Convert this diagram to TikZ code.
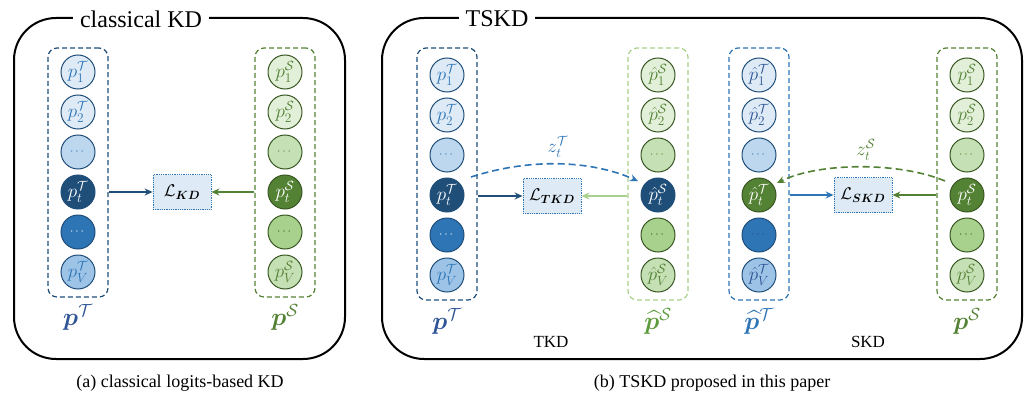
\RequirePackage{fix-cm}
\documentclass[tikz,border=0pt]{standalone}
\usepackage{fontspec}
\setmainfont{Liberation Serif}
\usepackage{amsmath,bm}
\usetikzlibrary{arrows.meta}
\definecolor{tdark}{HTML}{1F4E79}
\definecolor{tmid}{HTML}{2E75B6}
\definecolor{tlight}{HTML}{DEEBF7}
\definecolor{tlight2}{HTML}{BDD7EE}
\definecolor{tlight3}{HTML}{9DC3E6}
\definecolor{tlab}{HTML}{2F5597}
\definecolor{sdark}{HTML}{385723}
\definecolor{smid}{HTML}{548235}
\definecolor{slight}{HTML}{E2F0D9}
\definecolor{slight2}{HTML}{C5E0B4}
\definecolor{slight3}{HTML}{A9D18E}
\definecolor{slab}{HTML}{5E9B3C}
\tikzset{
  cir/.style={circle, minimum size=34pt, inner sep=0pt, line width=1pt, font=\fontsize{19}{22}\selectfont},
  tA/.style={cir, draw=tdark, fill=tlight, text=tmid},
  tB/.style={cir, draw=tdark, fill=tlight2, text=tmid},
  tC/.style={cir, draw=tdark, fill=tdark, text=white},
  tD/.style={cir, draw=tdark, fill=tmid, text=white},
  tE/.style={cir, draw=tdark, fill=tlight3, text=tmid},
  sA/.style={cir, draw=sdark, fill=slight, text=smid},
  sB/.style={cir, draw=sdark, fill=slight2, text=smid},
  sC/.style={cir, draw=sdark, fill=smid, text=white},
  sD/.style={cir, draw=sdark, fill=slight3, text=sdark},
  dots/.style={font=\fontsize{12}{14}\selectfont},
  colbox/.style={rounded corners=9pt, dash pattern=on 5pt off 3pt, line width=1.2pt, minimum width=60pt, inner sep=0pt},
  lbox/.style={draw=tmid, densely dotted, fill=tlight, minimum width=58pt, minimum height=35pt, line width=0.8pt, font=\fontsize{17}{20}\selectfont},
  arr/.style={line width=1.6pt, -{Stealth[length=8pt,width=7pt]}},
  zarr/.style={line width=1.6pt, dash pattern=on 7pt off 4pt, -{Stealth[length=8pt,width=7pt]}},
  outer/.style={line width=2pt, rounded corners=42pt},
  ttl/.style={fill=white, inner xsep=7pt, font=\fontsize{24}{28}\selectfont},
  vlab/.style={font=\fontsize{25}{28}\selectfont},
  small/.style={font=\fontsize{17}{20}\selectfont},
  captxt/.style={font=\fontsize{18}{22}\selectfont},
  zlab/.style={font=\fontsize{19}{22}\selectfont}
}
\begin{document}
\begin{tikzpicture}[x=1pt,y=-1pt]
\useasboundingbox (0,0) rectangle (1032,396);
% ---------- panel (a) ----------
\draw[outer] (14,18) rectangle (345,359);
\node[ttl] (ta) at (141,19) {classical KD};
\node[colbox, draw=tdark, minimum height=249pt] (bT) at (78,172.5) {};
\node[colbox, draw=smid, minimum height=249pt] (bS) at (285,172.5) {};
\node[tA] (a1) at (78,72) {$p_1^{\mathcal{T}}$};
\node[tA] (a2) at (78,112) {$p_2^{\mathcal{T}}$};
\node[tB, dots] (a3) at (78,152) {$\cdots$};
\node[tC] (a4) at (78,192) {$p_t^{\mathcal{T}}$};
\node[tD, dots] (a5) at (78,232) {$\cdots$};
\node[tE] (a6) at (78,272) {$p_V^{\mathcal{T}}$};
\node[sA] (b1) at (285,72) {$p_1^{\mathcal{S}}$};
\node[sA] (b2) at (285,112) {$p_2^{\mathcal{S}}$};
\node[sB, dots] (b3) at (285,152) {$\cdots$};
\node[sC] (b4) at (285,192) {$p_t^{\mathcal{S}}$};
\node[sD, dots] (b5) at (285,232) {$\cdots$};
\node[sB] (b6) at (285,272) {$p_V^{\mathcal{S}}$};
\node[lbox] (lkd) at (182,192) {$\mathcal{L}_{\bm{KD}}$};
\draw[arr, draw=tdark] (bT.east |- lkd.west) -- (lkd.west);
\draw[arr, draw=smid] (bS.west |- lkd.east) -- (lkd.east);
\node[vlab, text=tlab] (lpT) at (78,317) {$\bm{p}^{\mathcal{T}}$};
\node[vlab, text=smid] (lpS) at (285,317) {$\bm{p}^{\mathcal{S}}$};
\node[captxt] (capa) at (180,383) {(a) classical logits-based KD};
% ---------- panel (b) ----------
\draw[outer] (382,18) rectangle (1022,359);
\node[ttl] (tb) at (497,19) {TSKD};
\node[colbox, draw=tdark, minimum height=252pt] (c1) at (447,174) {};
\node[colbox, draw=slight3, minimum height=252pt] (c2) at (658,174) {};
\node[colbox, draw=tmid, minimum height=252pt] (c3) at (759,174) {};
\node[colbox, draw=smid, minimum height=252pt] (c4) at (967,174) {};
% column 1
\node[tA] (d1) at (447,75) {$p_1^{\mathcal{T}}$};
\node[tA] (d2) at (447,115) {$p_2^{\mathcal{T}}$};
\node[tB, dots] (d3) at (447,155) {$\cdots$};
\node[tC] (d4) at (447,195) {$p_t^{\mathcal{T}}$};
\node[tD, dots] (d5) at (447,235) {$\cdots$};
\node[tE] (d6) at (447,275) {$p_V^{\mathcal{T}}$};
% column 2
\node[sA] (e1) at (658,75) {$\hat{p}_1^{\mathcal{S}}$};
\node[sA] (e2) at (658,115) {$\hat{p}_2^{\mathcal{S}}$};
\node[sB, dots] (e3) at (658,155) {$\cdots$};
\node[tC] (e4) at (658,195) {$\hat{p}_t^{\mathcal{S}}$};
\node[sD, dots] (e5) at (658,235) {$\cdots$};
\node[sB] (e6) at (658,275) {$\hat{p}_V^{\mathcal{S}}$};
% column 3
\node[tA, text=tlab] (f1) at (759,75) {$\hat{p}_1^{\mathcal{T}}$};
\node[tA, text=tlab] (f2) at (759,115) {$\hat{p}_2^{\mathcal{T}}$};
\node[tB, dots] (f3) at (759,155) {$\cdots$};
\node[sC] (f4) at (759,195) {$\hat{p}_t^{\mathcal{T}}$};
\node[tD, dots, text=tdark] (f5) at (759,235) {$\cdots$};
\node[tE, text=tlab] (f6) at (759,275) {$\hat{p}_V^{\mathcal{T}}$};
% column 4
\node[sA] (g1) at (967,75) {$p_1^{\mathcal{S}}$};
\node[sA] (g2) at (967,115) {$p_2^{\mathcal{S}}$};
\node[sB, dots] (g3) at (967,155) {$\cdots$};
\node[sC] (g4) at (967,195) {$p_t^{\mathcal{S}}$};
\node[sD, dots] (g5) at (967,235) {$\cdots$};
\node[sB] (g6) at (967,275) {$p_V^{\mathcal{S}}$};
% losses
\node[lbox] (ltkd) at (552,196) {$\mathcal{L}_{\bm{TKD}}$};
\node[lbox] (lskd) at (863,195) {$\mathcal{L}_{\bm{SKD}}$};
\draw[arr, draw=tdark] (c1.east |- ltkd.west) -- (ltkd.west);
\draw[arr, draw=slight3] (c2.west |- ltkd.east) -- (ltkd.east);
\draw[arr, draw=tmid] (c3.east |- lskd.west) -- (lskd.west);
\draw[arr, draw=smid] (c4.west |- lskd.east) -- (lskd.east);
% dashed curved arrows
\coordinate (zTa) at (471,177);
\coordinate (zTb) at (638,181);
\draw[zarr, draw=tmid] (zTa) .. controls (530,158) and (590,160) .. (zTb);
\node[zlab, text=tmid] (zT) at (558,147) {$z_t^{\mathcal{T}}$};
\coordinate (zSa) at (945,181);
\coordinate (zSb) at (777,183);
\draw[zarr, draw=smid] (zSa) .. controls (900,162) and (820,162) .. (zSb);
\node[zlab, text=smid] (zS) at (866,150) {$z_t^{\mathcal{S}}$};
% labels
\node[vlab, text=tlab] (lc1) at (447,321) {$\bm{p}^{\mathcal{T}}$};
\node[vlab, text=slab] (lc2) at (658,321) {$\widehat{\bm{p}}^{\mathcal{S}}$};
\node[vlab, text=tmid] (lc3) at (759,321) {$\widehat{\bm{p}}^{\mathcal{T}}$};
\node[vlab, text=smid] (lc4) at (967,321) {$\bm{p}^{\mathcal{S}}$};
\node[small] (tkd) at (551,342) {TKD};
\node[small] (skd) at (868,342) {SKD};
\node[captxt] (capb) at (712,383) {(b) TSKD proposed in this paper};
\end{tikzpicture}
\end{document}
